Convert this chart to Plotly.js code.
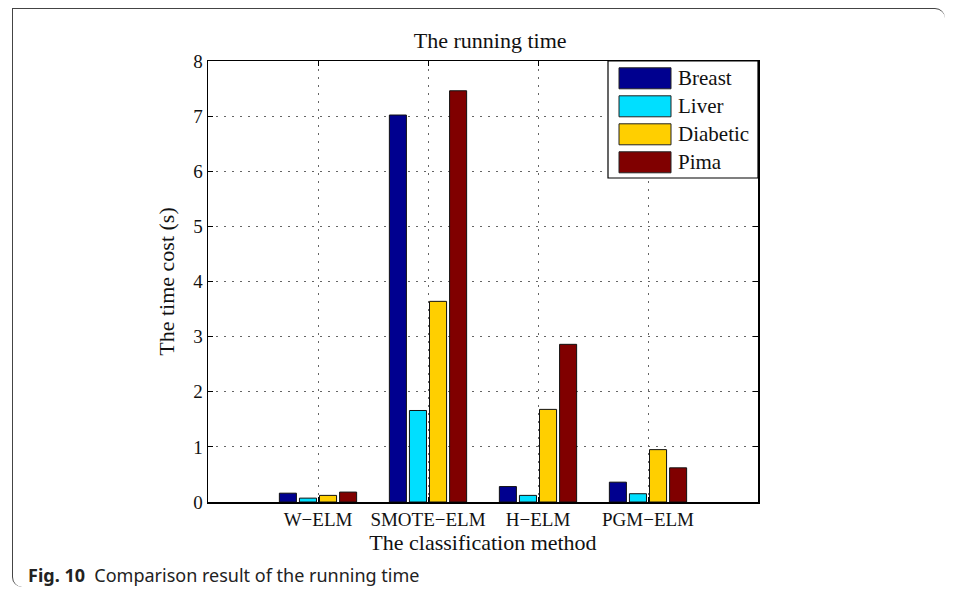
<!DOCTYPE html>
<html>
<head>
<meta charset="utf-8">
<script src="https://cdn.plot.ly/plotly-3.0.1.min.js"></script>
<style>
  html, body { margin: 0; padding: 0; background: #fff; }
  #wrap { position: relative; width: 957px; height: 592px; }
  #chart { width: 957px; height: 592px; }
  #frame { position: absolute; left: 12px; top: 8px; width: 933px; height: 579px;
           border-top: 1px solid #444; border-left: 1px solid #444;
           border-top-right-radius: 10px; border-bottom-left-radius: 10px;
           pointer-events: none; box-sizing: border-box; }
</style>
</head>
<body>
<div id="wrap">
  <div id="chart"></div>
  <div id="frame"></div>
</div>
<script>
// ---- data ----
const methods = ["W\u2212ELM", "SMOTE\u2212ELM", "H\u2212ELM", "PGM\u2212ELM"];
const seriesNames = ["Breast", "Liver", "Diabetic", "Pima"];
const breast   = [0.16, 7.02, 0.28, 0.36];
const liver    = [0.07, 1.66, 0.12, 0.15];
const diabetic = [0.12, 3.64, 1.68, 0.95];
const pima     = [0.18, 7.46, 2.86, 0.62];
const yTicks = [0, 1, 2, 3, 4, 5, 6, 7, 8];
const colors = ["#00008F", "#00DFFF", "#FFCF00", "#800000"];

const values = [breast, liver, diabetic, pima];
const serif = "Liberation Serif";

const traces = seriesNames.map((name, i) => ({
  type: "bar",
  name: name,
  x: methods,
  y: values[i],
  marker: { color: colors[i], line: { color: "#111", width: 1 } },
  showlegend: false,
  hoverinfo: "x+y+name"
}));

// custom legend (wide swatches like the original), built from series arrays
const plotL = 208, plotR = 758, plotT = 61, plotB = 502;
const pw = plotR - plotL, ph = plotB - plotT;
const px = v => (v - plotL) / pw;
const py = v => (plotB - v) / ph;

const shapes = [{
  type: "rect", xref: "paper", yref: "paper",
  x0: px(608), x1: px(758), y0: py(178), y1: py(61),
  line: { color: "#000", width: 1.2 }, fillcolor: "#fff", layer: "above"
}];
const annotations = [];
seriesNames.forEach((name, i) => {
  const cy = 78.3 + 28 * i;
  shapes.push({
    type: "rect", xref: "paper", yref: "paper",
    x0: px(619), x1: px(671), y0: py(cy + 10.5), y1: py(cy - 10.5),
    line: { color: "#222", width: 1 }, fillcolor: colors[i], layer: "above"
  });
  annotations.push({
    xref: "paper", yref: "paper", x: px(676), y: py(cy),
    xanchor: "left", yanchor: "middle", showarrow: false,
    text: name, font: { family: serif, size: 21, color: "#111" }
  });
});

annotations.push({
  xref: "paper", yref: "paper", x: px(26), y: py(575),
  xanchor: "left", yanchor: "middle", showarrow: false,
  text: "<b>Fig. 10</b>&nbsp;&nbsp;Comparison result of the running time",
  font: { family: "Noto Sans", size: 18, color: "#222" }
});

const layout = {
  width: 957, height: 592,
  margin: { l: plotL, r: 957 - plotR, t: plotT, b: 592 - plotB },
  paper_bgcolor: "#fff", plot_bgcolor: "#fff",
  barmode: "group", bargap: 0.27, bargroupgap: 0.15,
  title: {
    text: "The running time",
    font: { family: serif, size: 22, color: "#111" },
    xref: "paper", x: 0.513, xanchor: "center",
    yref: "container", y: 1 - 40 / 592, yanchor: "middle"
  },
  xaxis: {
    type: "category", range: [-1, 4],
    showline: true, linecolor: "#000", linewidth: 1.5, mirror: "ticks",
    ticks: "inside", ticklen: 5, tickcolor: "#000",
    showgrid: true, gridcolor: "#666", gridwidth: 1, griddash: "2px,6px",
    tickfont: { family: serif, size: 19, color: "#111" },
    title: { text: "The classification method", font: { family: serif, size: 22, color: "#111" }, standoff: 4 },
    zeroline: false, fixedrange: true
  },
  yaxis: {
    range: [0, 8], tickvals: yTicks,
    showline: true, linecolor: "#000", linewidth: 1.5, mirror: "ticks",
    ticks: "inside", ticklen: 5, tickcolor: "#000",
    showgrid: true, gridcolor: "#666", gridwidth: 1, griddash: "2px,6px",
    tickfont: { family: serif, size: 19, color: "#111" },
    title: { text: "The time cost (s)", font: { family: serif, size: 22, color: "#111" }, standoff: 12 },
    zeroline: false, fixedrange: true
  },
  shapes: shapes,
  annotations: annotations,
  showlegend: false
};

Plotly.newPlot("chart", traces, layout, { displayModeBar: false, staticPlot: true });
</script>
</body>
</html>
